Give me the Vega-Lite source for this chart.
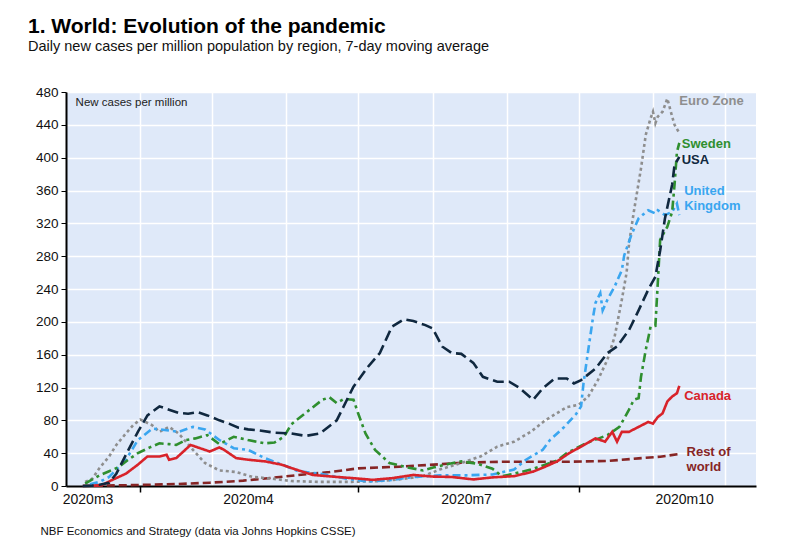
{
  "$schema": "https://vega.github.io/schema/vega-lite/v6.json",
  "width": 690,
  "height": 394,
  "autosize": {"type": "none"},
  "padding": {"left": 66, "top": 92, "right": 44, "bottom": 67},
  "background": "white",
  "title": {
    "text": "1. World: Evolution of the pandemic",
    "subtitle": "Daily new cases per million population by region, 7-day moving average",
    "anchor": "start",
    "frame": "group",
    "dx": -38,
    "offset": 32,
    "font": "Liberation Sans",
    "fontSize": 21,
    "fontWeight": "bold",
    "color": "#000000",
    "subtitleFont": "Liberation Sans",
    "subtitleFontSize": 14.5,
    "subtitleColor": "#111111",
    "subtitlePadding": 3
  },
  "config": {
    "view": {"fill": "#dfe9f9", "stroke": null},
    "font": "Liberation Sans",
    "axis": {"labelFont": "Liberation Sans", "titleFont": "Liberation Sans"}
  },
  "datasets": {
    "series": [
      {"series": "Rest of world", "date": "2020-03-08", "value": 0.2},
      {"series": "Rest of world", "date": "2020-03-15", "value": 0.5},
      {"series": "Rest of world", "date": "2020-03-31", "value": 1.2},
      {"series": "Rest of world", "date": "2020-04-16", "value": 2.4},
      {"series": "Rest of world", "date": "2020-04-30", "value": 4},
      {"series": "Rest of world", "date": "2020-05-14", "value": 6.5},
      {"series": "Rest of world", "date": "2020-05-28", "value": 10.6},
      {"series": "Rest of world", "date": "2020-06-06", "value": 13.4},
      {"series": "Rest of world", "date": "2020-06-19", "value": 17},
      {"series": "Rest of world", "date": "2020-07-01", "value": 21.5},
      {"series": "Rest of world", "date": "2020-07-18", "value": 23.5},
      {"series": "Rest of world", "date": "2020-07-30", "value": 25.6},
      {"series": "Rest of world", "date": "2020-08-14", "value": 28.4},
      {"series": "Rest of world", "date": "2020-08-31", "value": 29.6},
      {"series": "Rest of world", "date": "2020-09-17", "value": 29.6},
      {"series": "Rest of world", "date": "2020-09-27", "value": 29.6},
      {"series": "Rest of world", "date": "2020-10-13", "value": 30.5},
      {"series": "Rest of world", "date": "2020-10-26", "value": 33.7},
      {"series": "Rest of world", "date": "2020-11-04", "value": 35.7},
      {"series": "Rest of world", "date": "2020-11-12", "value": 39},

      {"series": "Euro Zone", "date": "2020-03-09", "value": 5},
      {"series": "Euro Zone", "date": "2020-03-12", "value": 9},
      {"series": "Euro Zone", "date": "2020-03-15", "value": 22},
      {"series": "Euro Zone", "date": "2020-03-19", "value": 36},
      {"series": "Euro Zone", "date": "2020-03-22", "value": 50},
      {"series": "Euro Zone", "date": "2020-03-26", "value": 64},
      {"series": "Euro Zone", "date": "2020-03-29", "value": 74},
      {"series": "Euro Zone", "date": "2020-04-01", "value": 81},
      {"series": "Euro Zone", "date": "2020-04-06", "value": 74},
      {"series": "Euro Zone", "date": "2020-04-09", "value": 66},
      {"series": "Euro Zone", "date": "2020-04-13", "value": 72},
      {"series": "Euro Zone", "date": "2020-04-17", "value": 64},
      {"series": "Euro Zone", "date": "2020-04-23", "value": 44},
      {"series": "Euro Zone", "date": "2020-04-28", "value": 28},
      {"series": "Euro Zone", "date": "2020-05-04", "value": 19},
      {"series": "Euro Zone", "date": "2020-05-11", "value": 17},
      {"series": "Euro Zone", "date": "2020-05-18", "value": 11},
      {"series": "Euro Zone", "date": "2020-05-26", "value": 9},
      {"series": "Euro Zone", "date": "2020-06-03", "value": 6},
      {"series": "Euro Zone", "date": "2020-06-15", "value": 5},
      {"series": "Euro Zone", "date": "2020-06-28", "value": 5},
      {"series": "Euro Zone", "date": "2020-07-10", "value": 6},
      {"series": "Euro Zone", "date": "2020-07-18", "value": 8},
      {"series": "Euro Zone", "date": "2020-07-28", "value": 12},
      {"series": "Euro Zone", "date": "2020-08-04", "value": 20},
      {"series": "Euro Zone", "date": "2020-08-13", "value": 28},
      {"series": "Euro Zone", "date": "2020-08-21", "value": 36},
      {"series": "Euro Zone", "date": "2020-08-28", "value": 48},
      {"series": "Euro Zone", "date": "2020-09-04", "value": 54},
      {"series": "Euro Zone", "date": "2020-09-11", "value": 66},
      {"series": "Euro Zone", "date": "2020-09-17", "value": 80},
      {"series": "Euro Zone", "date": "2020-09-26", "value": 96},
      {"series": "Euro Zone", "date": "2020-10-01", "value": 99},
      {"series": "Euro Zone", "date": "2020-10-05", "value": 109},
      {"series": "Euro Zone", "date": "2020-10-09", "value": 129},
      {"series": "Euro Zone", "date": "2020-10-13", "value": 154},
      {"series": "Euro Zone", "date": "2020-10-16", "value": 182},
      {"series": "Euro Zone", "date": "2020-10-19", "value": 227},
      {"series": "Euro Zone", "date": "2020-10-21", "value": 260},
      {"series": "Euro Zone", "date": "2020-10-22", "value": 295},
      {"series": "Euro Zone", "date": "2020-10-24", "value": 334},
      {"series": "Euro Zone", "date": "2020-10-27", "value": 387},
      {"series": "Euro Zone", "date": "2020-10-29", "value": 428},
      {"series": "Euro Zone", "date": "2020-10-31", "value": 448},
      {"series": "Euro Zone", "date": "2020-11-01", "value": 456},
      {"series": "Euro Zone", "date": "2020-11-02", "value": 442},
      {"series": "Euro Zone", "date": "2020-11-03", "value": 450},
      {"series": "Euro Zone", "date": "2020-11-05", "value": 456},
      {"series": "Euro Zone", "date": "2020-11-07", "value": 472},
      {"series": "Euro Zone", "date": "2020-11-09", "value": 450},
      {"series": "Euro Zone", "date": "2020-11-10", "value": 440},
      {"series": "Euro Zone", "date": "2020-11-12", "value": 430},

      {"series": "United Kingdom", "date": "2020-03-11", "value": 2},
      {"series": "United Kingdom", "date": "2020-03-15", "value": 5},
      {"series": "United Kingdom", "date": "2020-03-19", "value": 11},
      {"series": "United Kingdom", "date": "2020-03-26", "value": 32},
      {"series": "United Kingdom", "date": "2020-03-31", "value": 56},
      {"series": "United Kingdom", "date": "2020-04-06", "value": 70},
      {"series": "United Kingdom", "date": "2020-04-12", "value": 68},
      {"series": "United Kingdom", "date": "2020-04-17", "value": 66},
      {"series": "United Kingdom", "date": "2020-04-23", "value": 72},
      {"series": "United Kingdom", "date": "2020-04-28", "value": 69},
      {"series": "United Kingdom", "date": "2020-05-04", "value": 56},
      {"series": "United Kingdom", "date": "2020-05-10", "value": 46},
      {"series": "United Kingdom", "date": "2020-05-16", "value": 44},
      {"series": "United Kingdom", "date": "2020-05-23", "value": 34},
      {"series": "United Kingdom", "date": "2020-06-01", "value": 24},
      {"series": "United Kingdom", "date": "2020-06-06", "value": 18},
      {"series": "United Kingdom", "date": "2020-06-15", "value": 15},
      {"series": "United Kingdom", "date": "2020-06-26", "value": 9},
      {"series": "United Kingdom", "date": "2020-07-05", "value": 5.5},
      {"series": "United Kingdom", "date": "2020-07-14", "value": 7},
      {"series": "United Kingdom", "date": "2020-07-24", "value": 11},
      {"series": "United Kingdom", "date": "2020-08-04", "value": 13},
      {"series": "United Kingdom", "date": "2020-08-15", "value": 13},
      {"series": "United Kingdom", "date": "2020-08-26", "value": 14},
      {"series": "United Kingdom", "date": "2020-09-04", "value": 20},
      {"series": "United Kingdom", "date": "2020-09-09", "value": 32},
      {"series": "United Kingdom", "date": "2020-09-16", "value": 44},
      {"series": "United Kingdom", "date": "2020-09-19", "value": 56},
      {"series": "United Kingdom", "date": "2020-09-25", "value": 72},
      {"series": "United Kingdom", "date": "2020-09-30", "value": 88},
      {"series": "United Kingdom", "date": "2020-10-02", "value": 97},
      {"series": "United Kingdom", "date": "2020-10-03", "value": 125},
      {"series": "United Kingdom", "date": "2020-10-05", "value": 166},
      {"series": "United Kingdom", "date": "2020-10-07", "value": 206},
      {"series": "United Kingdom", "date": "2020-10-08", "value": 223},
      {"series": "United Kingdom", "date": "2020-10-10", "value": 235},
      {"series": "United Kingdom", "date": "2020-10-11", "value": 214},
      {"series": "United Kingdom", "date": "2020-10-13", "value": 227},
      {"series": "United Kingdom", "date": "2020-10-16", "value": 243},
      {"series": "United Kingdom", "date": "2020-10-19", "value": 263},
      {"series": "United Kingdom", "date": "2020-10-20", "value": 281},
      {"series": "United Kingdom", "date": "2020-10-23", "value": 306},
      {"series": "United Kingdom", "date": "2020-10-26", "value": 326},
      {"series": "United Kingdom", "date": "2020-10-30", "value": 336},
      {"series": "United Kingdom", "date": "2020-11-02", "value": 332},
      {"series": "United Kingdom", "date": "2020-11-03", "value": 336},
      {"series": "United Kingdom", "date": "2020-11-06", "value": 330},
      {"series": "United Kingdom", "date": "2020-11-09", "value": 334},
      {"series": "United Kingdom", "date": "2020-11-11", "value": 344},
      {"series": "United Kingdom", "date": "2020-11-12", "value": 330},

      {"series": "Sweden", "date": "2020-03-09", "value": 3},
      {"series": "Sweden", "date": "2020-03-12", "value": 8},
      {"series": "Sweden", "date": "2020-03-15", "value": 13},
      {"series": "Sweden", "date": "2020-03-19", "value": 18},
      {"series": "Sweden", "date": "2020-03-23", "value": 23},
      {"series": "Sweden", "date": "2020-03-27", "value": 32},
      {"series": "Sweden", "date": "2020-03-31", "value": 40},
      {"series": "Sweden", "date": "2020-04-05", "value": 47},
      {"series": "Sweden", "date": "2020-04-09", "value": 52},
      {"series": "Sweden", "date": "2020-04-13", "value": 51},
      {"series": "Sweden", "date": "2020-04-16", "value": 50},
      {"series": "Sweden", "date": "2020-04-20", "value": 56},
      {"series": "Sweden", "date": "2020-04-24", "value": 58},
      {"series": "Sweden", "date": "2020-04-29", "value": 62},
      {"series": "Sweden", "date": "2020-05-04", "value": 51},
      {"series": "Sweden", "date": "2020-05-10", "value": 60},
      {"series": "Sweden", "date": "2020-05-16", "value": 56},
      {"series": "Sweden", "date": "2020-05-23", "value": 52},
      {"series": "Sweden", "date": "2020-05-27", "value": 53},
      {"series": "Sweden", "date": "2020-05-31", "value": 60},
      {"series": "Sweden", "date": "2020-06-03", "value": 75},
      {"series": "Sweden", "date": "2020-06-09", "value": 89},
      {"series": "Sweden", "date": "2020-06-16", "value": 105},
      {"series": "Sweden", "date": "2020-06-19", "value": 108},
      {"series": "Sweden", "date": "2020-06-22", "value": 101},
      {"series": "Sweden", "date": "2020-06-25", "value": 106},
      {"series": "Sweden", "date": "2020-06-29", "value": 105},
      {"series": "Sweden", "date": "2020-07-01", "value": 88},
      {"series": "Sweden", "date": "2020-07-04", "value": 64},
      {"series": "Sweden", "date": "2020-07-08", "value": 44},
      {"series": "Sweden", "date": "2020-07-14", "value": 28},
      {"series": "Sweden", "date": "2020-07-21", "value": 23},
      {"series": "Sweden", "date": "2020-07-28", "value": 19},
      {"series": "Sweden", "date": "2020-08-02", "value": 23},
      {"series": "Sweden", "date": "2020-08-08", "value": 27},
      {"series": "Sweden", "date": "2020-08-13", "value": 30},
      {"series": "Sweden", "date": "2020-08-20", "value": 27},
      {"series": "Sweden", "date": "2020-08-26", "value": 21},
      {"series": "Sweden", "date": "2020-08-30", "value": 12},
      {"series": "Sweden", "date": "2020-09-04", "value": 15},
      {"series": "Sweden", "date": "2020-09-11", "value": 20},
      {"series": "Sweden", "date": "2020-09-17", "value": 26},
      {"series": "Sweden", "date": "2020-09-22", "value": 31},
      {"series": "Sweden", "date": "2020-09-26", "value": 40},
      {"series": "Sweden", "date": "2020-10-04", "value": 52},
      {"series": "Sweden", "date": "2020-10-13", "value": 62},
      {"series": "Sweden", "date": "2020-10-18", "value": 72},
      {"series": "Sweden", "date": "2020-10-22", "value": 93},
      {"series": "Sweden", "date": "2020-10-24", "value": 105},
      {"series": "Sweden", "date": "2020-10-26", "value": 107},
      {"series": "Sweden", "date": "2020-10-27", "value": 133},
      {"series": "Sweden", "date": "2020-10-29", "value": 166},
      {"series": "Sweden", "date": "2020-10-31", "value": 194},
      {"series": "Sweden", "date": "2020-11-02", "value": 195},
      {"series": "Sweden", "date": "2020-11-03", "value": 247},
      {"series": "Sweden", "date": "2020-11-04", "value": 300},
      {"series": "Sweden", "date": "2020-11-07", "value": 316},
      {"series": "Sweden", "date": "2020-11-09", "value": 334},
      {"series": "Sweden", "date": "2020-11-10", "value": 367},
      {"series": "Sweden", "date": "2020-11-11", "value": 407},
      {"series": "Sweden", "date": "2020-11-12", "value": 418},

      {"series": "Canada", "date": "2020-03-12", "value": 0.3},
      {"series": "Canada", "date": "2020-03-16", "value": 1},
      {"series": "Canada", "date": "2020-03-20", "value": 7},
      {"series": "Canada", "date": "2020-03-26", "value": 15},
      {"series": "Canada", "date": "2020-03-31", "value": 26},
      {"series": "Canada", "date": "2020-04-04", "value": 36},
      {"series": "Canada", "date": "2020-04-09", "value": 36},
      {"series": "Canada", "date": "2020-04-12", "value": 38},
      {"series": "Canada", "date": "2020-04-13", "value": 32},
      {"series": "Canada", "date": "2020-04-16", "value": 34},
      {"series": "Canada", "date": "2020-04-19", "value": 42},
      {"series": "Canada", "date": "2020-04-22", "value": 50},
      {"series": "Canada", "date": "2020-04-26", "value": 46},
      {"series": "Canada", "date": "2020-04-30", "value": 42},
      {"series": "Canada", "date": "2020-05-04", "value": 47},
      {"series": "Canada", "date": "2020-05-06", "value": 44},
      {"series": "Canada", "date": "2020-05-11", "value": 34},
      {"series": "Canada", "date": "2020-05-16", "value": 32},
      {"series": "Canada", "date": "2020-05-23", "value": 30},
      {"series": "Canada", "date": "2020-05-30", "value": 26},
      {"series": "Canada", "date": "2020-06-05", "value": 20},
      {"series": "Canada", "date": "2020-06-12", "value": 13.5},
      {"series": "Canada", "date": "2020-06-20", "value": 11.5},
      {"series": "Canada", "date": "2020-06-29", "value": 9.5},
      {"series": "Canada", "date": "2020-07-07", "value": 7.5},
      {"series": "Canada", "date": "2020-07-15", "value": 9.5},
      {"series": "Canada", "date": "2020-07-24", "value": 13.5},
      {"series": "Canada", "date": "2020-08-01", "value": 11.5},
      {"series": "Canada", "date": "2020-08-09", "value": 11},
      {"series": "Canada", "date": "2020-08-18", "value": 8},
      {"series": "Canada", "date": "2020-08-26", "value": 10.5},
      {"series": "Canada", "date": "2020-09-04", "value": 12},
      {"series": "Canada", "date": "2020-09-12", "value": 17.5},
      {"series": "Canada", "date": "2020-09-17", "value": 23.5},
      {"series": "Canada", "date": "2020-09-22", "value": 30},
      {"series": "Canada", "date": "2020-09-27", "value": 40},
      {"series": "Canada", "date": "2020-10-02", "value": 48},
      {"series": "Canada", "date": "2020-10-08", "value": 58},
      {"series": "Canada", "date": "2020-10-12", "value": 54},
      {"series": "Canada", "date": "2020-10-15", "value": 66},
      {"series": "Canada", "date": "2020-10-17", "value": 54},
      {"series": "Canada", "date": "2020-10-19", "value": 66},
      {"series": "Canada", "date": "2020-10-22", "value": 66},
      {"series": "Canada", "date": "2020-10-26", "value": 72},
      {"series": "Canada", "date": "2020-10-30", "value": 78},
      {"series": "Canada", "date": "2020-11-01", "value": 76},
      {"series": "Canada", "date": "2020-11-03", "value": 84},
      {"series": "Canada", "date": "2020-11-05", "value": 88.5},
      {"series": "Canada", "date": "2020-11-07", "value": 103},
      {"series": "Canada", "date": "2020-11-09", "value": 109},
      {"series": "Canada", "date": "2020-11-11", "value": 113},
      {"series": "Canada", "date": "2020-11-12", "value": 122},

      {"series": "USA", "date": "2020-03-08", "value": 0},
      {"series": "USA", "date": "2020-03-12", "value": 0.5},
      {"series": "USA", "date": "2020-03-15", "value": 1.5},
      {"series": "USA", "date": "2020-03-19", "value": 4},
      {"series": "USA", "date": "2020-03-22", "value": 15},
      {"series": "USA", "date": "2020-03-26", "value": 38},
      {"series": "USA", "date": "2020-03-31", "value": 66},
      {"series": "USA", "date": "2020-04-04", "value": 86},
      {"series": "USA", "date": "2020-04-09", "value": 97},
      {"series": "USA", "date": "2020-04-13", "value": 93},
      {"series": "USA", "date": "2020-04-17", "value": 89},
      {"series": "USA", "date": "2020-04-21", "value": 88},
      {"series": "USA", "date": "2020-04-25", "value": 90},
      {"series": "USA", "date": "2020-04-29", "value": 86},
      {"series": "USA", "date": "2020-05-04", "value": 80},
      {"series": "USA", "date": "2020-05-08", "value": 76},
      {"series": "USA", "date": "2020-05-12", "value": 71},
      {"series": "USA", "date": "2020-05-16", "value": 69},
      {"series": "USA", "date": "2020-05-20", "value": 68},
      {"series": "USA", "date": "2020-05-27", "value": 65},
      {"series": "USA", "date": "2020-06-03", "value": 64},
      {"series": "USA", "date": "2020-06-09", "value": 61},
      {"series": "USA", "date": "2020-06-15", "value": 64},
      {"series": "USA", "date": "2020-06-22", "value": 80},
      {"series": "USA", "date": "2020-06-29", "value": 121},
      {"series": "USA", "date": "2020-07-05", "value": 145},
      {"series": "USA", "date": "2020-07-10", "value": 162},
      {"series": "USA", "date": "2020-07-15", "value": 194},
      {"series": "USA", "date": "2020-07-20", "value": 203},
      {"series": "USA", "date": "2020-07-24", "value": 201},
      {"series": "USA", "date": "2020-07-29", "value": 196},
      {"series": "USA", "date": "2020-08-01", "value": 192},
      {"series": "USA", "date": "2020-08-05", "value": 170},
      {"series": "USA", "date": "2020-08-09", "value": 162},
      {"series": "USA", "date": "2020-08-13", "value": 161},
      {"series": "USA", "date": "2020-08-18", "value": 150},
      {"series": "USA", "date": "2020-08-22", "value": 133},
      {"series": "USA", "date": "2020-08-28", "value": 127},
      {"series": "USA", "date": "2020-09-02", "value": 127},
      {"series": "USA", "date": "2020-09-06", "value": 120},
      {"series": "USA", "date": "2020-09-12", "value": 105},
      {"series": "USA", "date": "2020-09-16", "value": 119},
      {"series": "USA", "date": "2020-09-21", "value": 131},
      {"series": "USA", "date": "2020-09-26", "value": 131},
      {"series": "USA", "date": "2020-09-29", "value": 125},
      {"series": "USA", "date": "2020-10-02", "value": 129},
      {"series": "USA", "date": "2020-10-08", "value": 143},
      {"series": "USA", "date": "2020-10-13", "value": 162},
      {"series": "USA", "date": "2020-10-17", "value": 170},
      {"series": "USA", "date": "2020-10-22", "value": 190},
      {"series": "USA", "date": "2020-10-26", "value": 214},
      {"series": "USA", "date": "2020-10-30", "value": 239},
      {"series": "USA", "date": "2020-11-02", "value": 255},
      {"series": "USA", "date": "2020-11-04", "value": 287},
      {"series": "USA", "date": "2020-11-06", "value": 326},
      {"series": "USA", "date": "2020-11-09", "value": 367},
      {"series": "USA", "date": "2020-11-10", "value": 391},
      {"series": "USA", "date": "2020-11-12", "value": 401}
    ],
    "labels": [
      {"series": "Euro Zone", "label": "Euro Zone", "date": "2020-11-12", "value": 469},
      {"series": "Sweden", "label": "Sweden", "date": "2020-11-13", "value": 417},
      {"series": "USA", "label": "USA", "date": "2020-11-13", "value": 397},
      {"series": "United Kingdom", "label": "United\nKingdom", "date": "2020-11-14", "value": 359},
      {"series": "Canada", "label": "Canada", "date": "2020-11-14", "value": 109.6},
      {"series": "Rest of world", "label": "Rest of\nworld", "date": "2020-11-15", "value": 41.4}
    ],
    "note": [
      {"label": "New cases per million", "date": "2020-03-05", "value": 466}
    ]
  },
  "layer": [
    {
      "data": {"name": "series"},
      "mark": {"type": "line", "strokeWidth": 2.6, "interpolate": "linear"},
      "encoding": {
        "x": {
          "field": "date",
          "type": "temporal",
          "scale": {"domain": [{"year": 2020, "month": 3, "date": 1, "utc": true}, {"year": 2020, "month": 12, "date": 14, "utc": true}]},
          "axis": {
            "orient": "bottom",
            "title": null,
            "values": [
              {"year": 2020, "month": 4, "date": 1, "utc": true},
              {"year": 2020, "month": 5, "date": 1, "utc": true},
              {"year": 2020, "month": 6, "date": 1, "utc": true},
              {"year": 2020, "month": 7, "date": 1, "utc": true},
              {"year": 2020, "month": 8, "date": 1, "utc": true},
              {"year": 2020, "month": 9, "date": 1, "utc": true},
              {"year": 2020, "month": 10, "date": 1, "utc": true},
              {"year": 2020, "month": 11, "date": 1, "utc": true},
              {"year": 2020, "month": 12, "date": 1, "utc": true}
            ],
            "grid": true,
            "gridColor": "#ffffff",
            "gridWidth": 1.5,
            "gridOpacity": 1,
            "ticks": false,
            "labels": false,
            "domain": true,
            "domainColor": "#000000",
            "domainWidth": 2
          }
        },
        "y": {
          "field": "value",
          "type": "quantitative",
          "scale": {"domain": [0, 480], "nice": false},
          "axis": {
            "title": null,
            "orient": "left",
            "values": [0, 40, 80, 120, 160, 200, 240, 280, 320, 360, 400, 440, 480],
            "grid": true,
            "gridColor": "#ffffff",
            "gridWidth": 1.5,
            "gridOpacity": 1,
            "domain": true,
            "domainColor": "#000000",
            "domainWidth": 2,
            "ticks": true,
            "tickColor": "#000000",
            "tickSize": 5,
            "tickWidth": 1,
            "labels": true,
            "labelFontSize": 13.5,
            "labelColor": "#111111",
            "labelPadding": 3
          }
        },
        "color": {
          "field": "series",
          "type": "nominal",
          "scale": {
            "domain": ["Euro Zone", "Sweden", "USA", "United Kingdom", "Canada", "Rest of world"],
            "range": ["#8e8e8e", "#2f8f2f", "#10283f", "#3aa6f0", "#d8232a", "#862525"]
          },
          "legend": null
        },
        "strokeDash": {
          "field": "series",
          "type": "nominal",
          "scale": {
            "domain": ["Euro Zone", "Sweden", "USA", "United Kingdom", "Canada", "Rest of world"],
            "range": [[3, 3], [9, 4, 3, 4], [11, 5], [8, 4, 3, 4], [1, 0], [8, 4]]
          },
          "legend": null
        }
      }
    },
    {
      "data": {"name": "labels"},
      "mark": {"type": "text", "align": "left", "baseline": "middle", "fontSize": 13, "fontWeight": "bold", "lineBreak": "\n", "lineHeight": 15},
      "encoding": {
        "x": {
          "field": "date",
          "type": "temporal",
          "scale": {"domain": [{"year": 2020, "month": 3, "date": 1, "utc": true}, {"year": 2020, "month": 12, "date": 14, "utc": true}]},
          "axis": {
            "orient": "bottom",
            "title": null,
            "values": [
              {"year": 2020, "month": 4, "date": 1, "utc": true},
              {"year": 2020, "month": 7, "date": 1, "utc": true},
              {"year": 2020, "month": 10, "date": 1, "utc": true}
            ],
            "grid": false,
            "ticks": true,
            "tickColor": "#000000",
            "tickWidth": 1.5,
            "tickSize": 6,
            "labels": false,
            "domain": false
          }
        },
        "y": {
          "field": "value",
          "type": "quantitative",
          "scale": {"domain": [0, 480], "nice": false},
          "axis": {
            "title": null,
            "orient": "left",
            "values": [0, 40, 80, 120, 160, 200, 240, 280, 320, 360, 400, 440, 480],
            "grid": true,
            "gridColor": "#ffffff",
            "gridWidth": 1.5,
            "gridOpacity": 1,
            "domain": true,
            "domainColor": "#000000",
            "domainWidth": 2,
            "ticks": true,
            "tickColor": "#000000",
            "tickSize": 5,
            "tickWidth": 1,
            "labels": true,
            "labelFontSize": 13.5,
            "labelColor": "#111111",
            "labelPadding": 3
          }
        },
        "text": {"field": "label"},
        "color": {
          "field": "series",
          "type": "nominal",
          "scale": {
            "domain": ["Euro Zone", "Sweden", "USA", "United Kingdom", "Canada", "Rest of world"],
            "range": ["#8e8e8e", "#2f8f2f", "#10283f", "#3aa6f0", "#d8232a", "#862525"]
          },
          "legend": null
        }
      }
    },
    {
      "data": {"name": "note"},
      "mark": {"type": "text", "align": "left", "baseline": "middle", "fontSize": 11.5, "color": "#222222"},
      "encoding": {
        "x": {
          "field": "date",
          "type": "temporal",
          "scale": {"domain": [{"year": 2020, "month": 3, "date": 1, "utc": true}, {"year": 2020, "month": 12, "date": 14, "utc": true}]},
          "axis": {
            "orient": "bottom",
            "values": [
              {"year": 2020, "month": 3, "date": 10, "utc": true},
              {"year": 2020, "month": 5, "date": 16, "utc": true},
              {"year": 2020, "month": 8, "date": 15, "utc": true},
              {"year": 2020, "month": 11, "date": 14, "utc": true}
            ],
            "labelExpr": "month(datum.value) == 2 ? '2020m3' : month(datum.value) == 4 ? '2020m4' : month(datum.value) == 7 ? '2020m7' : '2020m10'",
            "grid": false,
            "ticks": false,
            "domain": false,
            "labelFontSize": 14,
            "labelColor": "#111111",
            "labelPadding": 6,
            "title": "NBF Economics and Strategy (data via Johns Hopkins CSSE)",
            "titleFontSize": 11.5,
            "titleFontWeight": "normal",
            "titleColor": "#111111",
            "titleAnchor": "start",
            "titleAlign": "left",
            "titleBaseline": "alphabetic",
            "titleX": -26,
            "titleY": 48
          }
        },
        "y": {
          "field": "value",
          "type": "quantitative",
          "scale": {"domain": [0, 480], "nice": false},
          "axis": {
            "title": null,
            "orient": "left",
            "values": [0, 40, 80, 120, 160, 200, 240, 280, 320, 360, 400, 440, 480],
            "grid": true,
            "gridColor": "#ffffff",
            "gridWidth": 1.5,
            "gridOpacity": 1,
            "domain": true,
            "domainColor": "#000000",
            "domainWidth": 2,
            "ticks": true,
            "tickColor": "#000000",
            "tickSize": 5,
            "tickWidth": 1,
            "labels": true,
            "labelFontSize": 13.5,
            "labelColor": "#111111",
            "labelPadding": 3
          }
        },
        "text": {"field": "label"}
      }
    }
  ],
  "resolve": {"axis": {"x": "independent", "y": "shared"}}
}
